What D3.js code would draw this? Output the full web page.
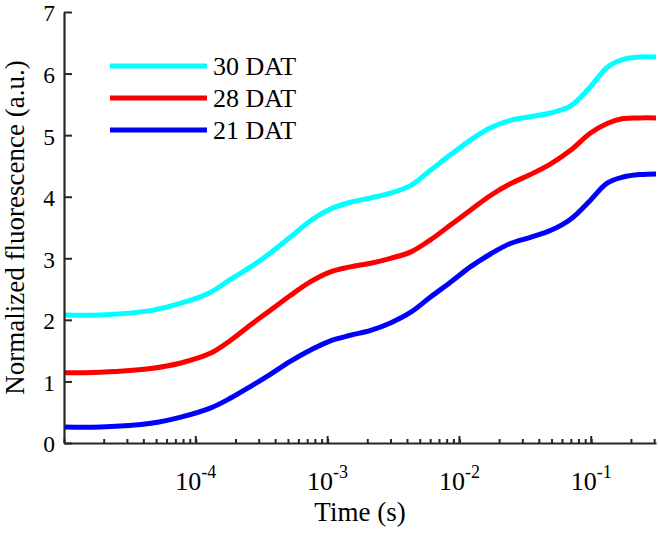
<!DOCTYPE html>
<html>
<head>
<meta charset="utf-8">
<script src="https://cdn.jsdelivr.net/npm/d3@7"></script>
<style>
  html, body { margin: 0; padding: 0; background: #fff; }
  svg { display: block; font-family: "Liberation Serif", "Times New Roman", serif; }
</style>
</head>
<body>
<svg id="chart" width="658" height="533"></svg>
<script>
// ---- data ----
const times = [1e-5, 1.9e-5, 4.56e-5, 7.7e-5, 1.3e-4, 1.84e-4, 2.61e-4, 3.7e-4, 5.25e-4, 7.43e-4,
  1.05e-3, 1.49e-3, 2.12e-3, 3.0e-3, 4.25e-3, 6.03e-3, 8.55e-3, 1.21e-2, 1.72e-2, 2.43e-2,
  3.45e-2, 4.89e-2, 6.93e-2, 9.82e-2, 1.32e-1, 1.75e-1, 2.35e-1, 3.1e-1];
const dat30 = [2.08, 2.08, 2.15, 2.27, 2.45, 2.66, 2.86, 3.09, 3.35, 3.61,
  3.80, 3.91, 3.98, 4.06, 4.18, 4.43, 4.68, 4.92, 5.12, 5.24,
  5.30, 5.36, 5.47, 5.78, 6.10, 6.23, 6.27, 6.27];
const dat28 = [1.14, 1.15, 1.21, 1.30, 1.46, 1.67, 1.92, 2.16, 2.40, 2.62,
  2.78, 2.86, 2.92, 3.00, 3.10, 3.30, 3.54, 3.78, 4.02, 4.21,
  4.36, 4.53, 4.75, 5.03, 5.19, 5.27, 5.28, 5.28];
const dat21 = [0.26, 0.26, 0.32, 0.42, 0.57, 0.73, 0.92, 1.12, 1.33, 1.51,
  1.66, 1.75, 1.83, 1.95, 2.12, 2.37, 2.61, 2.86, 3.07, 3.24,
  3.34, 3.45, 3.63, 3.94, 4.22, 4.32, 4.36, 4.37];
const seriesNames = ["30 DAT", "28 DAT", "21 DAT"];
const seriesColors = ["#00FFFF", "#FF0000", "#0000FF"];
const yTicks = [0, 1, 2, 3, 4, 5, 6, 7];
const xMajorExp = [-4, -3, -2, -1];
const xDomain = [1e-5, 0.31];
const yDomain = [0, 7];
const xTitle = "Time (s)";
const yTitle = "Normalized fluorescence (a.u.)";

// ---- layout ----
const svg = d3.select("#chart");
const W = 658, H = 533;
const m = { left: 64, top: 12, right: 2, bottom: 90 };
const x = d3.scaleLog().domain(xDomain).range([m.left, W - m.right]);
const y = d3.scaleLinear().domain(yDomain).range([H - m.bottom, m.top]);
const axisColor = "#262626";
const serif = '"Liberation Serif", "Times New Roman", serif';

// ---- curves ----
const allSeries = [dat30, dat28, dat21];
const line = d3.line()
  .x(d => x(d[0]))
  .y(d => y(d[1]))
  .curve(d3.curveCatmullRom.alpha(0.5));
allSeries.forEach((vals, i) => {
  svg.append("path")
    .datum(times.map((t, j) => [t, vals[j]]))
    .attr("fill", "none")
    .attr("stroke", seriesColors[i])
    .attr("stroke-width", 5)
    .attr("stroke-linejoin", "round")
    .attr("d", line);
});

// ---- y axis ----
const gy = svg.append("g")
  .attr("transform", `translate(${m.left},0)`)
  .call(d3.axisLeft(y).tickValues(yTicks).tickSizeInner(-8).tickSizeOuter(0).tickPadding(9).tickFormat(d3.format("d")));
gy.attr("font-family", serif).attr("font-size", null);
gy.select(".domain").attr("stroke", axisColor).attr("stroke-width", 2.2);
gy.selectAll(".tick line").attr("stroke", axisColor).attr("stroke-width", 2);
gy.selectAll(".tick text")
  .attr("fill", "#000")
  .attr("dy", "0.38em")
  .style("font-size", "23.5px")
  .style("font-family", serif);

// ---- x axis ----
const minorTicks = [];
for (let e = -5; e <= -1; e++) {
  for (let k = 1; k <= 9; k++) {
    const v = k * Math.pow(10, e);
    if (v >= xDomain[0] && v <= xDomain[1]) minorTicks.push(v);
  }
}
const gx = svg.append("g")
  .attr("transform", `translate(0,${H - m.bottom})`)
  .call(d3.axisBottom(x).tickValues(minorTicks).tickSizeInner(-4).tickSizeOuter(0).tickFormat(""));
gx.select(".domain").attr("stroke", axisColor).attr("stroke-width", 2.2);
gx.selectAll(".tick line").attr("stroke", axisColor).attr("stroke-width", 2);
const majorVals = xMajorExp.map(e => Math.pow(10, e));
gx.selectAll(".major")
  .data(majorVals)
  .enter().append("line")
  .attr("class", "major")
  .attr("x1", d => x(d)).attr("x2", d => x(d))
  .attr("y1", 0).attr("y2", -7)
  .attr("stroke", axisColor).attr("stroke-width", 2);

const xl = svg.append("g");
xMajorExp.forEach(e => {
  const t = xl.append("text")
    .attr("x", x(Math.pow(10, e)))
    .attr("y", 490)
    .attr("text-anchor", "middle")
    .style("font-size", "26px")
    .style("font-family", serif)
    .attr("fill", "#000");
  t.append("tspan").text("10");
  t.append("tspan").attr("dy", -12).style("font-size", "18px").text(String(e));
});

// ---- axis titles ----
svg.append("text")
  .attr("x", (m.left + W - m.right) / 2)
  .attr("y", 521)
  .attr("text-anchor", "middle")
  .style("font-size", "27px")
  .style("font-family", serif)
  .attr("fill", "#000")
  .text(xTitle);
svg.append("text")
  .attr("transform", `translate(24,${(m.top + H - m.bottom) / 2}) rotate(-90)`)
  .attr("text-anchor", "middle")
  .style("font-size", "27px")
  .style("font-family", serif)
  .attr("fill", "#000")
  .text(yTitle);

// ---- legend ----
const legY = [66, 98, 130];
seriesNames.forEach((name, i) => {
  svg.append("line")
    .attr("x1", 110).attr("x2", 207)
    .attr("y1", legY[i]).attr("y2", legY[i])
    .attr("stroke", seriesColors[i]).attr("stroke-width", 5);
  svg.append("text")
    .attr("x", 213).attr("y", legY[i] + 9)
    .style("font-size", "26px")
    .style("font-family", serif)
    .attr("fill", "#000")
    .text(name);
});
</script>
</body>
</html>
